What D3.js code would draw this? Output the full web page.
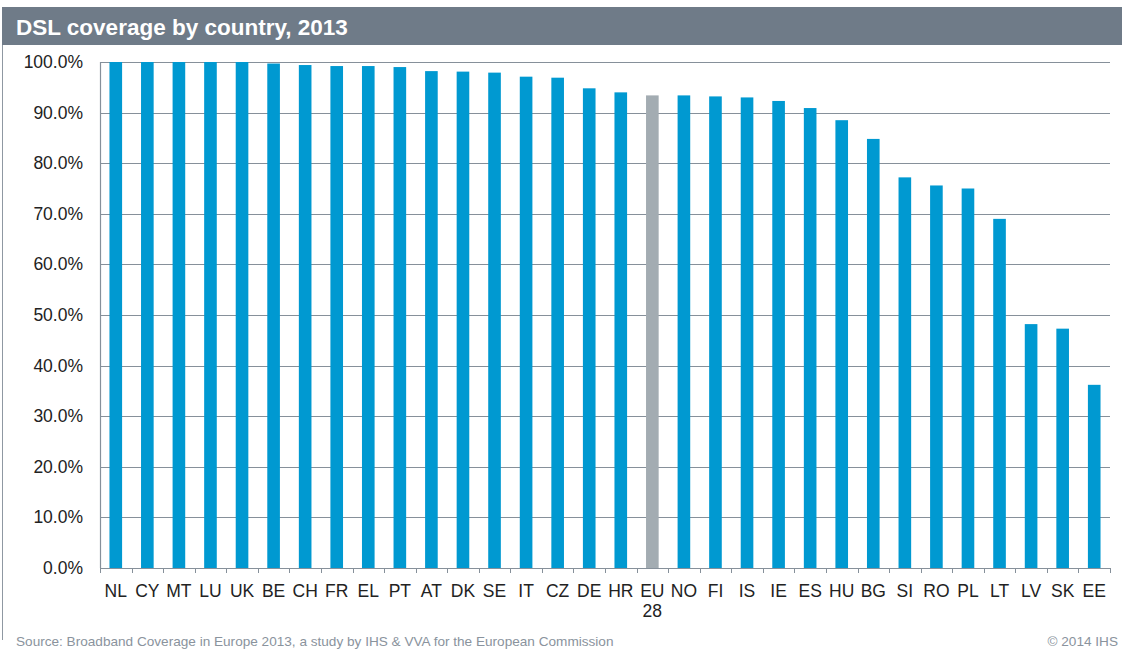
<!DOCTYPE html>
<html>
<head>
<meta charset="utf-8">
<script src="https://cdn.jsdelivr.net/npm/d3@7"></script>
<style>
  body { margin: 0; background: #fff; }
  svg { display: block; font-family: "Liberation Sans", Arial, sans-serif; }
</style>
</head>
<body>
<svg id="chart" width="1123" height="655"></svg>
<script>
// data
var countries = ["NL","CY","MT","LU","UK","BE","CH","FR","EL","PT","AT","DK","SE","IT","CZ","DE","HR","EU 28","NO","FI","IS","IE","ES","HU","BG","SI","RO","PL","LT","LV","SK","EE"];
var coverage = [100,100,100,100,100,99.7,99.4,99.2,99.2,99.0,98.2,98.1,97.9,97.1,96.9,94.8,94.0,93.4,93.4,93.2,93.0,92.3,90.9,88.5,84.8,77.2,75.6,75.0,69.0,48.2,47.3,36.2];
var yTicks = [0,10,20,30,40,50,60,70,80,90,100];

// plot box (don't use "top" - it's window.top)
var plotL = 100, plotR = 1110, plotT = 62, plotB = 568;

var svg = d3.select("#chart");

// frame + title bar
svg.append("line").attr("x1",2.5).attr("x2",2.5).attr("y1",7).attr("y2",640)
  .attr("stroke","#8f98a2").attr("stroke-width",1);
svg.append("rect").attr("x",2).attr("y",7).attr("width",1120).attr("height",38).attr("fill","#6f7b88");
svg.append("text").attr("x",16).attr("y",35).attr("fill","#fff")
  .attr("font-size",22.5).attr("font-weight","bold").text("DSL coverage by country, 2013");

var x = d3.scaleBand().domain(countries).range([plotL,plotR]).paddingInner(0.6).paddingOuter(0.3);
var xb = d3.scaleBand().domain(countries).range([plotL,plotR]);
var y = d3.scaleLinear().domain([0,100]).range([plotB,plotT]);

// grid
svg.append("g").selectAll("line").data(yTicks.filter(function(d){return d>0;})).enter().append("line")
  .attr("x1",plotL).attr("x2",plotR)
  .attr("y1",function(d){return Math.round(y(d))+0.5;}).attr("y2",function(d){return Math.round(y(d))+0.5;})
  .attr("stroke","#86909a").attr("stroke-width",1.2);

// y labels
svg.append("g").selectAll("text").data(yTicks).enter().append("text")
  .attr("x",83).attr("y",function(d){return y(d)+6;})
  .attr("text-anchor","end").attr("font-size",17.5).attr("fill","#222")
  .text(function(d){return d.toFixed(1)+"%";});

// bars
svg.append("g").selectAll("rect").data(countries).enter().append("rect")
  .attr("x",function(d){return x(d);})
  .attr("width",x.bandwidth())
  .attr("y",function(d,i){return y(coverage[i]);})
  .attr("height",function(d,i){return plotB-y(coverage[i]);})
  .attr("fill",function(d){return d=="EU 28" ? "#a3acb2" : "#0099d1";});

// axes lines
svg.append("line").attr("x1",plotL+0.5).attr("x2",plotL+0.5).attr("y1",plotT).attr("y2",plotB)
  .attr("stroke","#86909a").attr("stroke-width",1.2);
svg.append("line").attr("x1",plotL).attr("x2",plotR).attr("y1",plotB+0.5).attr("y2",plotB+0.5)
  .attr("stroke","#86909a").attr("stroke-width",1.2);
var bounds = countries.map(function(d){return xb(d);}).concat([plotR]);
svg.append("g").selectAll("line").data(bounds).enter().append("line")
  .attr("x1",function(d){return Math.round(d)+0.5;}).attr("x2",function(d){return Math.round(d)+0.5;})
  .attr("y1",plotB).attr("y2",plotB+5)
  .attr("stroke","#86909a").attr("stroke-width",1);

// x labels
var xl = svg.append("g").selectAll("text").data(countries).enter().append("text")
  .attr("x",function(d){return xb(d)+xb.bandwidth()/2;})
  .attr("y",597).attr("text-anchor","middle").attr("font-size",17.5).attr("fill","#222");
xl.each(function(d){
  var parts = d.split(" ");
  var t = d3.select(this);
  parts.forEach(function(p,i){
    t.append("tspan").attr("x",t.attr("x")).attr("dy",i==0?0:20).text(p);
  });
});

// footer
svg.append("text").attr("x",16).attr("y",646).attr("font-size",13.6).attr("fill","#8a939d")
  .text("Source: Broadband Coverage in Europe 2013, a study by IHS & VVA for the European Commission");
svg.append("text").attr("x",1118).attr("y",646).attr("text-anchor","end").attr("font-size",13.6).attr("fill","#8a939d")
  .text("© 2014 IHS");
</script>
</body>
</html>
